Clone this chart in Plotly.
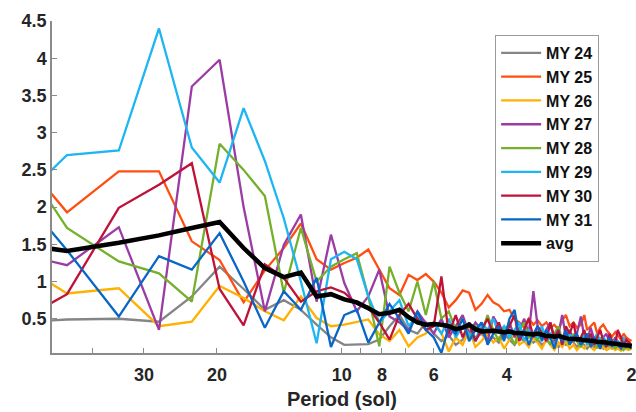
import math
import plotly.graph_objects as go

period_sol = [69.0, 46.0, 34.5, 27.6, 23.0, 19.71, 17.25, 15.33, 13.8, 12.55,
              11.5, 10.62, 9.86, 9.2, 8.63, 8.12, 7.67, 7.26, 6.9, 6.57,
              6.27, 6.0, 5.75, 5.52, 5.31, 5.11, 4.93, 4.76, 4.6, 4.45,
              4.31, 4.18, 4.06, 3.94, 3.83, 3.73, 3.63, 3.54, 3.45, 3.37,
              3.29, 3.21, 3.14, 3.07, 3.0, 2.94, 2.88, 2.82, 2.76, 2.71,
              2.65, 2.6, 2.56, 2.51, 2.46, 2.42, 2.38, 2.34, 2.3, 2.26,
              2.23, 2.19, 2.16, 2.12, 2.09, 2.06, 2.03, 2.0]

my24 = [0.43, 0.49, 0.50, 0.46, 0.80, 1.20, 0.90, 0.62, 0.75, 0.62,
        0.42, 0.25, 0.15, 0.15, 0.16, 0.22, 0.40, 0.55, 0.35, 0.30,
        0.45, 0.30, 0.20, 0.28, 0.15, 0.22, 0.35, 0.25, 0.30, 0.20,
        0.25, 0.18, 0.30, 0.22, 0.15, 0.25, 0.20, 0.28, 0.18, 0.22,
        0.15, 0.20, 0.25, 0.18, 0.12, 0.20, 0.15, 0.22, 0.18, 0.12,
        0.18, 0.15, 0.10, 0.16, 0.12, 0.18, 0.14, 0.10, 0.15, 0.12,
        0.10, 0.14, 0.12, 0.09, 0.13, 0.10, 0.12, 0.09]

my25 = [3.10, 1.93, 2.48, 2.48, 1.54, 1.29, 0.72, 1.15, 1.45, 1.78,
        1.30, 1.16, 1.25, 1.32, 1.43, 1.16, 0.91, 0.82, 1.09, 1.02,
        1.10, 1.00, 0.85, 0.65, 0.75, 0.88, 0.85, 0.62, 0.70, 0.82,
        0.72, 0.68, 0.60, 0.62, 0.49, 0.45, 0.38, 0.50, 0.42, 0.48,
        0.40, 0.45, 0.38, 0.42, 0.35, 0.48, 0.55, 0.40, 0.45, 0.38,
        0.42, 0.55, 0.35, 0.40, 0.45, 0.30, 0.38, 0.42, 0.35, 0.30,
        0.26, 0.32, 0.28, 0.22, 0.30, 0.25, 0.22, 0.20]

my26 = [1.45, 0.84, 0.91, 0.40, 0.46, 0.94, 0.78, 0.60, 0.48, 0.80,
        0.51, 0.40, 0.42, 0.46, 0.49, 0.29, 0.20, 0.35, 0.13, 0.25,
        0.30, 0.45, 0.31, 0.06, 0.25, 0.15, 0.35, 0.12, 0.20, 0.30,
        0.18, 0.25, 0.10, 0.22, 0.30, 0.15, 0.20, 0.12, 0.25, 0.18,
        0.10, 0.22, 0.15, 0.08, 0.18, 0.12, 0.20, 0.10, 0.15, 0.08,
        0.14, 0.10, 0.16, 0.12, 0.08, 0.14, 0.10, 0.12, 0.08, 0.10,
        0.12, 0.08, 0.10, 0.07, 0.11, 0.09, 0.08, 0.10]

my27 = [1.45, 1.22, 1.73, 0.35, 3.62, 3.98, 2.00, 0.60, 1.49, 1.90,
        0.73, 1.63, 0.98, 0.60, 0.80, 1.16, 0.53, 0.45, 0.35, 0.60,
        0.44, 0.30, 0.50, 0.25, 0.40, 0.55, 0.30, 0.45, 0.35, 0.20,
        0.53, 0.40, 0.30, 0.45, 0.25, 0.35, 0.50, 0.30, 0.87, 0.40,
        0.25, 0.35, 0.45, 0.20, 0.30, 0.55, 0.25, 0.35, 0.20, 0.30,
        0.53, 0.25, 0.20, 0.38, 0.22, 0.30, 0.15, 0.25, 0.30, 0.18,
        0.15, 0.25, 0.20, 0.12, 0.22, 0.15, 0.18, 0.12]

my28 = [3.20, 1.72, 1.27, 1.11, 0.73, 2.85, 2.50, 2.15, 0.85, 1.72,
        1.00, 1.20, 1.30, 1.38, 0.80, 0.13, 1.20, 0.85, 0.60, 1.00,
        0.55, 1.00, 0.50, 0.60, 0.35, 0.50, 0.25, 0.40, 0.30, 0.55,
        0.35, 0.20, 0.40, 0.30, 0.15, 0.35, 0.45, 0.25, 0.30, 0.20,
        0.35, 0.25, 0.15, 0.30, 0.40, 0.20, 0.25, 0.15, 0.30, 0.20,
        0.12, 0.25, 0.30, 0.15, 0.20, 0.10, 0.25, 0.15, 0.12, 0.20,
        0.15, 0.10, 0.18, 0.12, 0.08, 0.14, 0.10, 0.12]

my29 = [1.74, 2.70, 2.76, 4.40, 2.80, 2.33, 3.33, 2.62, 1.85, 1.00,
        0.17, 1.30, 1.40, 1.30, 0.80, 0.45, 0.60, 0.75, 0.40, 0.55,
        0.35, 0.45, 0.30, 0.50, 0.25, 0.40, 0.30, 0.20, 0.45, 0.35,
        0.50, 0.30, 0.40, 0.25, 0.35, 0.45, 0.20, 0.35, 0.30, 0.25,
        0.40, 0.20, 0.30, 0.25, 0.35, 0.15, 0.25, 0.30, 0.20, 0.28,
        0.20, 0.30, 0.15, 0.25, 0.20, 0.30, 0.18, 0.25, 0.20, 0.15,
        0.22, 0.15, 0.20, 0.18, 0.25, 0.12, 0.18, 0.15]

my30 = [0.28, 0.83, 1.99, 2.30, 2.59, 0.90, 0.41, 1.23, 1.05, 0.73,
        0.87, 0.92, 0.85, 0.70, 0.66, 0.45, 0.22, 0.55, 0.70, 0.50,
        0.35, 0.40, 1.07, 0.30, 0.55, 0.25, 0.45, 0.20, 0.35, 0.50,
        0.30, 0.45, 0.25, 0.40, 0.55, 0.20, 0.35, 0.50, 0.25, 0.40,
        0.30, 0.20, 0.45, 0.25, 0.35, 0.15, 0.40, 0.30, 0.45, 0.20,
        0.25, 0.35, 0.20, 0.30, 0.15, 0.25, 0.35, 0.20, 0.12, 0.30,
        0.20, 0.15, 0.35, 0.25, 0.12, 0.22, 0.18, 0.15]

my31 = [2.60, 1.42, 0.53, 1.34, 1.16, 1.65, 1.00, 0.38, 0.87, 0.62,
        1.05, 0.12, 0.55, 0.62, 0.18, 0.45, 0.70, 0.50, 0.30, 0.60,
        0.35, 0.25, 0.04, 0.40, 0.30, 0.50, 0.20, 0.35, 0.45, 0.15,
        0.30, 0.40, 0.20, 0.50, 0.62, 0.25, 0.35, 0.15, 0.30, 0.40,
        0.20, 0.35, 0.25, 0.10, 0.30, 0.20, 0.35, 0.15, 0.25, 0.30,
        0.15, 0.22, 0.30, 0.12, 0.25, 0.18, 0.10, 0.22, 0.15, 0.25,
        0.12, 0.20, 0.15, 0.10, 0.18, 0.12, 0.15, 0.10]

avg = [1.55, 1.41, 1.52, 1.62, 1.72, 1.80, 1.45, 1.18, 1.06, 1.12,
       0.80, 0.83, 0.76, 0.72, 0.64, 0.56, 0.58, 0.62, 0.52, 0.45,
       0.42, 0.43, 0.42, 0.40, 0.36, 0.38, 0.42, 0.36, 0.33, 0.34,
       0.34, 0.33, 0.32, 0.33, 0.31, 0.31, 0.30, 0.30, 0.29, 0.30,
       0.28, 0.27, 0.27, 0.26, 0.27, 0.25, 0.24, 0.23, 0.23, 0.22,
       0.22, 0.21, 0.21, 0.20, 0.20, 0.19, 0.19, 0.18, 0.18, 0.17,
       0.17, 0.16, 0.16, 0.15, 0.15, 0.14, 0.14, 0.13]

series_names = ["MY 24", "MY 25", "MY 26", "MY 27", "MY 28", "MY 29", "MY 30", "MY 31", "avg"]
series_values = [my24, my25, my26, my27, my28, my29, my30, my31, avg]
series_colors = ["#858585", "#FF4E12", "#FFB000", "#9A3CA4", "#74B02A",
                 "#1DB5F2", "#BE1238", "#0866C6", "#000000"]
series_widths = [2.3, 2.3, 2.3, 2.3, 2.3, 2.3, 2.3, 2.3, 4.5]

x_tickvals = [40, 30, 20, 10, 9, 8, 7, 6, 5, 4, 3, 2]
x_ticktext = ["", "30", "20", "10", "", "8", "", "6", "", "4", "", "2"]
y_tickvals = [0.5, 1, 1.5, 2, 2.5, 3, 3.5, 4, 4.5]
y_ticktext = ["0.5", "1", "1.5", "2", "2.5", "3", "3.5", "4", "4.5"]

fig = go.Figure()
for name, vals, col, w in zip(series_names, series_values, series_colors, series_widths):
    fig.add_trace(go.Scatter(x=period_sol, y=vals, mode="lines", name=name,
                             line=dict(color=col, width=w)))

font_family = "Liberation Sans, Arial, Helvetica, sans-serif"
fig.update_layout(
    width=636, height=412,
    margin=dict(l=52, r=4, t=21, b=59, autoexpand=False),
    paper_bgcolor="white", plot_bgcolor="white",
    font=dict(family=font_family, size=18, color="#262626", weight="bold"),
    legend=dict(x=0.764, y=0.958, xanchor="left", yanchor="top",
                bordercolor="#9a9a9a", borderwidth=1, bgcolor="white",
                font=dict(size=16, color="#111111", weight="bold"),
                tracegroupgap=0, itemwidth=40),
    showlegend=True,
)
fig.update_xaxes(type="log", range=[math.log10(50), math.log10(1.995)],
                 tickmode="array", tickvals=x_tickvals, ticktext=x_ticktext,
                 ticks="inside", ticklen=5, tickcolor="#8a8a8a",
                 ticklabeloverflow="allow", ticklabelstandoff=5, automargin=False,
                 showline=True, linecolor="#8a8a8a", linewidth=1.5,
                 showgrid=False, zeroline=False,
                 title=dict(text="Period (sol)", font=dict(size=20, weight="bold", color="#262626"), standoff=8),
                 tickfont=dict(size=18, weight="bold"))
fig.update_yaxes(range=[0.04, 4.5], tickmode="array", tickvals=y_tickvals, ticktext=y_ticktext,
                 ticks="inside", ticklen=5, tickcolor="#8a8a8a", automargin=False,
                 showline=True, linecolor="#8a8a8a", linewidth=1.5,
                 showgrid=False, zeroline=False,
                 tickfont=dict(size=18, weight="bold"))

fig.write_html("out.html")
